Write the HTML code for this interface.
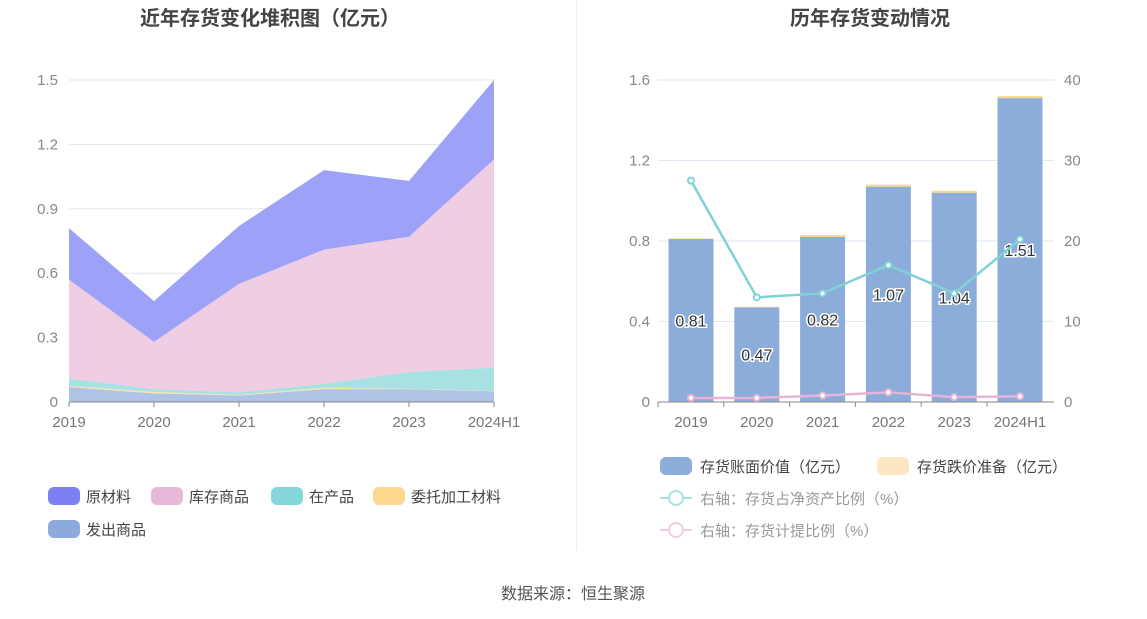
<!DOCTYPE html>
<html><head><meta charset="utf-8"><style>
body{margin:0;background:#fff;font-family:"Liberation Sans","Noto Sans CJK SC",sans-serif;}
#wrap{position:relative;width:1147px;height:619px;overflow:hidden;}
svg text{font-family:"Liberation Sans","Noto Sans CJK SC",sans-serif;}
</style></head><body>
<div id="wrap">
<svg id="s" width="1147" height="619">
<text x="270" y="25" text-anchor="middle" font-size="20" font-weight="bold" fill="#444">近年存货变化堆积图（亿元）</text>
<text x="870" y="25" text-anchor="middle" font-size="20" font-weight="bold" fill="#444">历年存货变动情况</text>
<line x1="576.5" y1="0" x2="576.5" y2="550" stroke="#eee"/>
<g id="L"></g><g id="R"></g>
<text x="573" y="599" text-anchor="middle" font-size="16" fill="#555">数据来源：恒生聚源</text>
</svg>
</div>
<script>
const years=["2019","2020","2021","2022","2023","2024H1"];
const faChu=[0.07,0.04,0.03,0.06,0.06,0.05];
const weiTuo=[0.005,0.007,0.003,0.007,0.002,0.002];
const zaiChan=[0.035,0.013,0.012,0.018,0.078,0.108];
const kuCun=[0.46,0.22,0.505,0.625,0.63,0.97];
const yuanCai=[0.24,0.19,0.27,0.37,0.26,0.37];
const leftTicks=[0,0.3,0.6,0.9,1.2,1.5];
const bookVal=[0.81,0.47,0.82,1.07,1.04,1.51];
const reserve=[0.003,0.003,0.01,0.01,0.01,0.01];
const ratioNet=[27.5,13,13.5,17,13.5,20.2];
const ratioProv=[0.5,0.5,0.8,1.2,0.6,0.7];
const rLeftTicks=[0,0.4,0.8,1.2,1.6];
const rRightTicks=[0,10,20,30,40];
const NS="http://www.w3.org/2000/svg";
function mk(p,t,a){const e=document.createElementNS(NS,t);for(const k in a)e.setAttribute(k,a[k]);p.appendChild(e);return e;}
// left chart
const L=document.getElementById('L');
const lx=i=>69+i*(494-69)/5, ly=v=>402-v*(322/1.5);
leftTicks.forEach(t=>{
 const g=mk(L,'line',{x1:69,x2:494,y1:ly(t),y2:ly(t),stroke:"#e3e6f3"});
 
 const tx=mk(L,'text',{x:58,y:ly(t)+5,'text-anchor':'end','font-size':15,fill:'#888'});tx.textContent=t;
 
});
const series=[[faChu,"#aec3e5","faChu"],[weiTuo,"#fde3a6","weiTuo"],[zaiChan,"#a7e1e2","zaiChan"],[kuCun,"#efcde3","kuCun"],[yuanCai,"#9da2f8","yuanCai"]];
let base=years.map(()=>0);
series.forEach(([arr,c,n])=>{
 const top=base.map((b,i)=>b+arr[i]);
 let d="M"+top.map((v,i)=>lx(i)+","+ly(v)).join("L");
 for(let i=5;i>=0;i--)d+="L"+lx(i)+","+ly(base[i]);
 const p=mk(L,'path',{d:d+"Z",fill:c});
 
 base=top;
});
mk(L,'line',{x1:69,x2:494,y1:402,y2:402,stroke:"#888"});
years.forEach((y,i)=>{
 mk(L,'line',{x1:lx(i),x2:lx(i),y1:402,y2:407,stroke:"#888"});
 const t=mk(L,'text',{x:lx(i),y:427,'text-anchor':'middle','font-size':15,fill:'#777'});t.textContent=y;
 
});
const legL=[["原材料","#7b7ff3",48,496],["库存商品","#e8b8d8",151,496],["在产品","#85d6d8",271,496],["委托加工材料","#fdd88f",373,496],["发出商品","#8ea9db",48,529]];
legL.forEach(([n,c,x,y])=>{
 const r=mk(L,'rect',{x:x,y:y-9,width:32,height:18,rx:6,fill:c});
 
 const t=mk(L,'text',{x:x+38,y:y+6,'font-size':15,fill:'#444'});t.textContent=n;
 
});
// right chart
const R=document.getElementById('R');
const rx=i=>691+i*(1020-691)/5, ryL=v=>402-v*(322/1.6), ryR=v=>402-v*(322/40);
rLeftTicks.forEach((t,k)=>{
 mk(R,'line',{x1:658,x2:1054,y1:ryL(t),y2:ryL(t),stroke:"#e3e6f3"});
 const a=mk(R,'text',{x:650,y:ryL(t)+5,'text-anchor':'end','font-size':15,fill:'#888'});a.textContent=t;
 
 const b=mk(R,'text',{x:1064,y:ryR(rRightTicks[k])+5,'font-size':15,fill:'#888'});b.textContent=rRightTicks[k];
 
});
years.forEach((y,i)=>{
 const b=mk(R,'rect',{x:rx(i)-22.5,y:ryL(bookVal[i]),width:45,height:402-ryL(bookVal[i]),fill:"#8cacd9"});
 
 const r=mk(R,'rect',{x:rx(i)-22.5,y:ryL(bookVal[i]+reserve[i]),width:45,height:ryL(bookVal[i])-ryL(bookVal[i]+reserve[i]),fill:"#fbd98d"});
 
 const t=mk(R,'text',{x:rx(i),y:402-(402-ryL(bookVal[i]))/2+6,'text-anchor':'middle','font-size':16,fill:'#333',stroke:'#fff','stroke-width':3,'paint-order':'stroke'});t.textContent=bookVal[i].toFixed(2);
 
 mk(R,'line',{x1:rx(i)-33,x2:rx(i)-33,y1:402,y2:407,stroke:"#888"});
 const xl=mk(R,'text',{x:rx(i),y:427,'text-anchor':'middle','font-size':15,fill:'#777'});xl.textContent=y;
 
});
mk(R,'line',{x1:658,x2:1054,y1:402,y2:402,stroke:"#888"});
[[ratioNet,"#7fd3d6","line-net-ratio"],[ratioProv,"#e8b4d6","line-provision-ratio"]].forEach(([arr,c,n])=>{
 const p=mk(R,'polyline',{points:arr.map((v,i)=>rx(i)+","+ryR(v)).join(" "),fill:"none",stroke:c,'stroke-width':2.5});
 
 arr.forEach((v,i)=>{const d=mk(R,'circle',{cx:rx(i),cy:ryR(v),r:3,fill:'#fff',stroke:c,'stroke-width':2});
  });
});
const legR=[["存货账面价值（亿元）","#8cacd9",660,466,0],["存货跌价准备（亿元）","#fde7c2",877,466,0],["右轴：存货占净资产比例（%）","#a7e1e2",660,498,1],["右轴：存货计提比例（%）","#efcde3",660,530,1]];
legR.forEach(([n,c,x,y,ln])=>{
 if(ln){mk(R,'line',{x1:x,x2:x+32,y1:y,y2:y,stroke:c,'stroke-width':2});mk(R,'circle',{cx:x+16,cy:y,r:7,fill:'#fff',stroke:c,'stroke-width':2});}
 else{const r=mk(R,'rect',{x:x,y:y-9,width:32,height:18,rx:6,fill:c});}
 const t=mk(R,'text',{x:x+40,y:y+6,'font-size':15,fill:ln?'#999':'#444'});t.textContent=n;
 
});
</script>
</body></html>
